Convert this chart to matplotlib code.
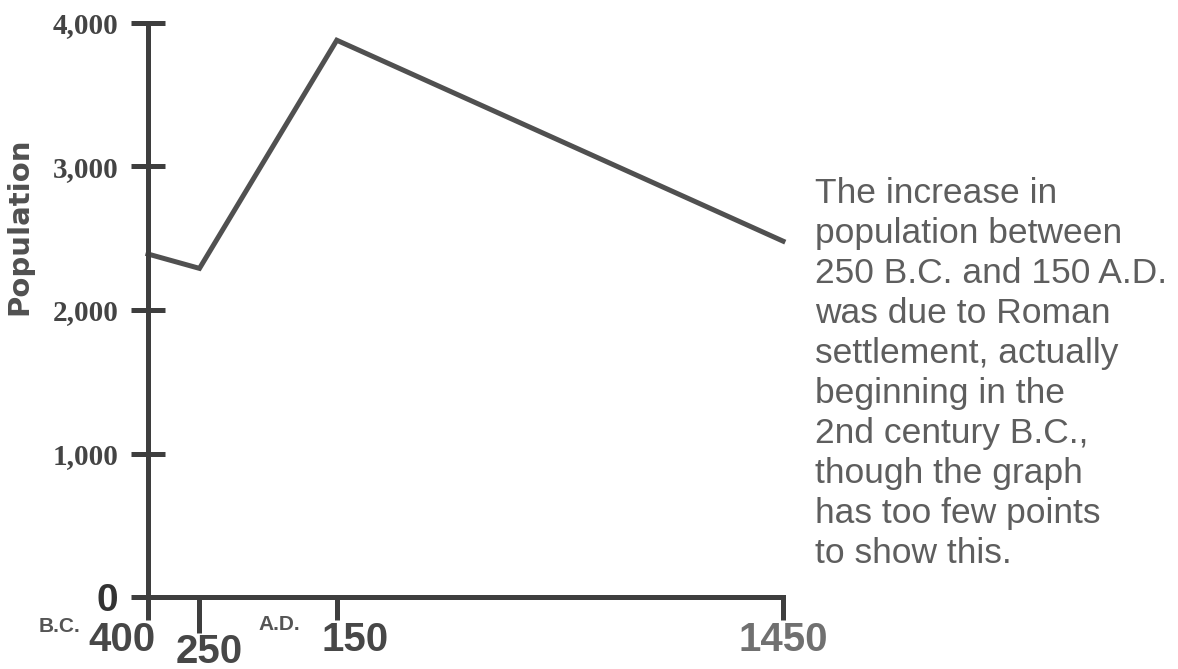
import matplotlib
matplotlib.use("Agg")
import matplotlib.pyplot as plt
from matplotlib.transforms import ScaledTranslation

# -------------------------------------------------
# Data (years: negative = B.C.)
# -------------------------------------------------

years = [-400, -250, 150, 1450]
population = [2390, 2290, 3880, 2480]

y_ticks = [0, 1000, 2000, 3000, 4000]
y_labels = ["0", "1,000", "2,000", "3,000", "4,000"]

x_major = [-400, 150, 1450]
x_major_labels = ["400", "150", "1450"]
x_minor = [-250]
x_minor_labels = ["250"]

note = ("The increase in\npopulation between\n250 B.C. and 150 A.D.\n"
        "was due to Roman\nsettlement, actually\nbeginning in the\n"
        "2nd century B.C.,\nthough the graph\nhas too few points\n"
        "to show this.")

# -------------------------------------------------
# Figure
# -------------------------------------------------

W, H = 1178, 669
fig = plt.figure(figsize=(W / 100, H / 100), dpi=100)
ax = fig.add_axes([148 / W, 72 / H, 635 / W, 574 / H])

axis_col = "#3e3e3e"
line_col = "#505050"

ax.plot(years, population, color=line_col, lw=3.6, solid_joinstyle="miter",
        clip_on=False)

ax.set_xlim(-400, 1450)
ax.set_ylim(0, 4000)

for s in ["top", "right"]:
    ax.spines[s].set_visible(False)
for s in ["left", "bottom"]:
    ax.spines[s].set_linewidth(3.6)
    ax.spines[s].set_color(axis_col)

# y axis
ax.set_yticks(y_ticks, y_labels)
ax.tick_params(axis="y", direction="inout", length=25, width=3.6,
               color=axis_col, pad=9, labelsize=21, labelcolor="#444444")
for lab in ax.get_yticklabels():
    lab.set_fontfamily("Liberation Serif")
    lab.set_fontweight("bold")
    if lab.get_text() == "0":
        lab.set_fontfamily("Liberation Sans")
        lab.set_fontsize(28)
        lab.set_color("#333333")

# x axis
ax.set_xticks(x_major, x_major_labels)
ax.set_xticks(x_minor, x_minor_labels, minor=True)
ax.tick_params(axis="x", which="major", direction="out", length=16.5,
               width=3.6, color=axis_col, pad=1, labelsize=29)
ax.tick_params(axis="x", which="minor", direction="out", length=26,
               width=3.6, color=axis_col, pad=0, labelsize=29)

# the year labels sit a little off their ticks in the original
shift_px = {"400": -26, "250": 10, "150": 18, "1450": 0}
for lab in ax.get_xticklabels() + ax.get_xticklabels(minor=True):
    lab.set_fontfamily("Liberation Sans")
    lab.set_fontweight("bold")
    lab.set_color("#474747")
    dx = shift_px.get(lab.get_text(), 0) / 100
    lab.set_transform(lab.get_transform()
                      + ScaledTranslation(dx, 0, fig.dpi_scale_trans))
ax.get_xticklabels()[-1].set_color("#707070")

ax.set_ylabel("Population", fontsize=21, color="#505050",
              family="DejaVu Sans", fontweight="bold")
ax.yaxis.set_label_coords(-0.180, 0.646)

# era markers
fig.text(60 / W, 1 - 627 / H, "B.C.", ha="center", va="center",
         fontsize=15, fontweight="bold", family="Liberation Sans",
         color="#555555")
fig.text(279 / W, 1 - 625 / H, "A.D.", ha="center", va="center",
         fontsize=15, fontweight="bold", family="Liberation Sans",
         color="#555555")

# side note
fig.text(815 / W, 1 - 177 / H, note, ha="left", va="top", fontsize=25.5,
         family="Liberation Sans", color="#5e5e5e", linespacing=1.27)

fig.savefig("out.png", dpi=100)
